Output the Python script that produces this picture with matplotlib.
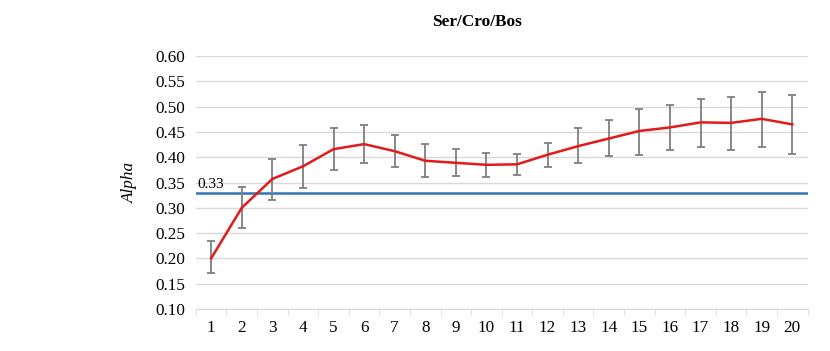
import numpy as np
import matplotlib.pyplot as plt

plt.rcParams['font.family'] = ['Liberation Serif', 'DejaVu Serif']

steps = list(range(1, 21))
alpha = [0.200, 0.300, 0.357, 0.382, 0.416, 0.426, 0.412, 0.393, 0.389, 0.385,
         0.386, 0.405, 0.422, 0.437, 0.452, 0.459, 0.469, 0.468, 0.476, 0.465]
upper = [0.234, 0.341, 0.397, 0.425, 0.457, 0.463, 0.444, 0.426, 0.416, 0.408,
         0.407, 0.429, 0.457, 0.474, 0.496, 0.503, 0.516, 0.520, 0.530, 0.524]
lower = [0.170, 0.260, 0.315, 0.339, 0.374, 0.388, 0.380, 0.360, 0.362, 0.361,
         0.364, 0.380, 0.388, 0.402, 0.405, 0.415, 0.421, 0.415, 0.421, 0.406]
ref = 0.33

alpha = np.array(alpha)
yerr = [alpha - np.array(lower), np.array(upper) - alpha]

fig = plt.figure(figsize=(8.3, 3.51), dpi=100)
ax = fig.add_axes([0.236, 0.12, 0.737, 0.72])

ax.errorbar(steps, alpha, yerr=yerr, fmt='none', ecolor='#7f7f7f',
            elinewidth=1.3, capsize=3, capthick=1.3, zorder=3)
ax.plot(steps, alpha, color='#e41a1a', lw=1.8, zorder=4)
ax.axhline(ref, color='#2e75b6', lw=1.8, zorder=2)
ax.text(0.55, ref + 0.004, '%.2f' % ref, fontsize=11, ha='left', va='bottom')

ax.set_xlim(0.5, 20.5)
ax.set_ylim(0.10, 0.60)
ax.set_yticks(np.arange(0.10, 0.601, 0.05))
ax.set_yticklabels(['%.2f' % v for v in np.arange(0.10, 0.601, 0.05)])
ax.set_xticks(steps)
ax.set_xticks(np.arange(0.5, 20.6, 1), minor=True)
ax.tick_params(axis='x', which='major', length=0, pad=8, labelsize=12.3)
ax.tick_params(axis='x', which='minor', length=4, color='#d9d9d9')
ax.tick_params(axis='y', length=0, pad=8, labelsize=12.3)
ax.grid(axis='y', color='#d9d9d9', lw=1)
ax.set_axisbelow(True)
for s in ['top', 'right', 'left']:
    ax.spines[s].set_visible(False)
ax.spines['bottom'].set_color('#d9d9d9')

ax.set_ylabel('Alpha', fontsize=12.3, style='italic', labelpad=12)
fig.text(0.575, 0.925, 'Ser/Cro/Bos', fontsize=12.4, fontweight='bold', ha='center')

fig.savefig('out.png', dpi=100)
